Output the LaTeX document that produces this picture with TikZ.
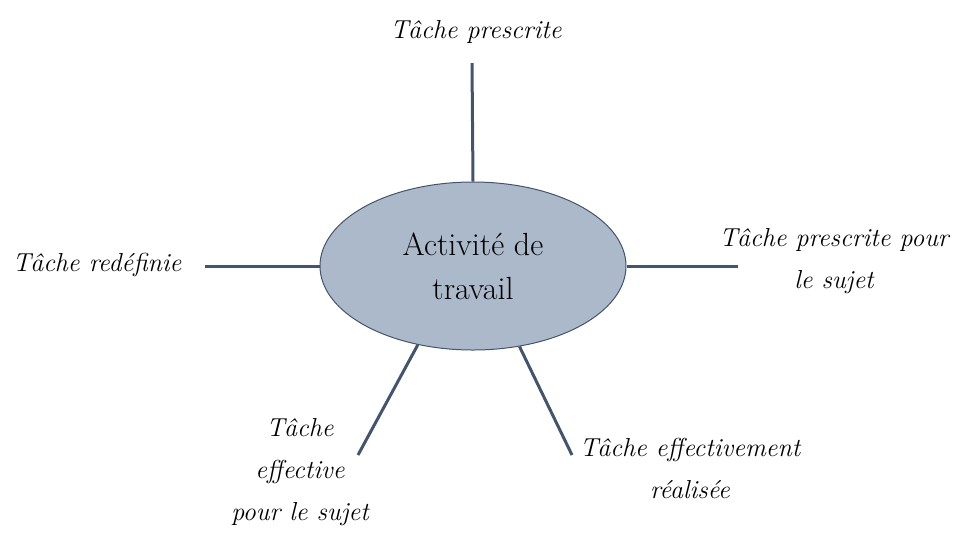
\documentclass[tikz,border=0pt]{standalone}
\usetikzlibrary{shapes.geometric}
\definecolor{slate}{HTML}{44546A}
\definecolor{bluegray}{HTML}{ACB9CA}
\tikzset{
  branch/.style={draw=slate, line width=2.25pt},
  task/.style={font=\fontsize{19.5}{31.5}\selectfont\itshape, align=center, inner sep=0pt},
}
\begin{document}
\begin{tikzpicture}[x=0.75pt, y=-0.75pt]
      \useasboundingbox (0, 0) rectangle (953, 537);

      \node [ellipse, draw=slate, line width=0.75pt, fill=bluegray,
             minimum width=229.5pt, minimum height=126pt, inner sep=0pt,
             font=\fontsize{24}{33}\selectfont, align=center] (act) at (473, 266) {Activité de\\travail};

      \node [task] (prescrite) at (476, 32) {Tâche prescrite};
      \node [task] (redefinie) at (97, 265) {Tâche redéfinie};
      \node [task] (sujet) at (834, 261) {Tâche prescrite pour\\le sujet};
      \node [task] (realisee) at (690, 468) {Tâche effectivement\\réalisée};
      \node [task] (effective) at (300, 472) {Tâche\\effective\\pour le sujet};

      \coordinate (top end) at (472, 63);
      \coordinate (left end) at (205, 266);
      \coordinate (right end) at (738, 266);
      \coordinate (bl end) at (358, 455);
      \coordinate (br end) at (572, 455);

      \draw [branch] (act.north) -- (top end);
      \draw [branch] (act.west) -- (left end);
      \draw [branch] (act.east) -- (right end);
      \draw [branch] (act.235) -- (bl end);
      \draw [branch] (act.300) -- (br end);
    \end{tikzpicture}
\end{document}
